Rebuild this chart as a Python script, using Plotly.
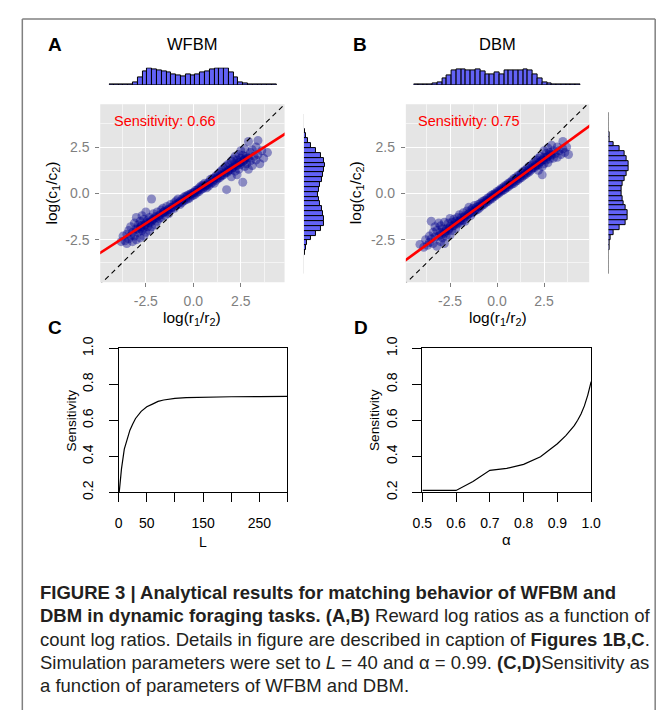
import plotly.graph_objects as go

W, H = 671, 718
FONT = "Liberation Sans, Arial, Helvetica, sans-serif"

# ---------------- data ----------------
# Panel A (WFBM) scatter: (log(r1/r2), log(c1/c2))
A_points = [
    (-3.8, -2.6), (-3.7, -2.3), (-3.6, -2.55), (-3.5, -2.2), (-3.5, -2.7), (-3.4, -2.0), (-3.4, -2.45),
    (-3.3, -2.3), (-3.3, -1.8), (-3.2, -2.6), (-3.2, -2.1), (-3.1, -1.6), (-3.1, -2.3), (-3.0, -1.9),
    (-3.0, -2.5), (-3.0, -1.3), (-2.9, -2.1), (-2.9, -1.7), (-2.8, -2.4), (-2.8, -1.5), (-2.8, -1.9),
    (-2.7, -1.2), (-2.7, -2.0), (-2.7, -1.7), (-2.6, -2.3), (-2.6, -1.4), (-2.6, -1.85), (-2.5, -1.6),
    (-2.5, -2.1), (-2.5, -1.0), (-2.4, -1.8), (-2.4, -1.45), (-2.3, -1.3), (-2.3, -2.0), (-2.3, -1.6),
    (-2.2, -0.3), (-2.2, -1.5), (-2.2, -1.8), (-2.1, -1.1), (-2.1, -1.4), (-2.0, -1.7), (-2.0, -1.25),
    (-1.9, -1.0), (-1.9, -1.5), (-1.8, -1.2), (-1.8, -1.35), (-1.7, -0.9), (-1.7, -1.3), (-1.6, -1.05),
    (-1.6, -0.8), (-1.5, -1.2), (-1.5, -0.95), (-1.4, -0.7), (-1.4, -1.0), (-1.3, -0.85), (-1.3, -1.1),
    (-1.2, -0.6), (-1.2, -0.9), (-1.1, -0.75), (-1.0, -0.5), (-1.0, -0.8), (-0.9, -0.65), (-0.9, -0.4),
    (-0.8, -0.55), (-0.8, -0.3), (-0.7, -0.45), (-0.7, -0.6), (-0.6, -0.3), (-0.6, -0.5), (-0.5, -0.2),
    (-0.5, -0.4), (-0.4, -0.35), (-0.4, -0.15), (-0.3, -0.1), (-0.3, -0.3), (-0.2, -0.05), (-0.2, -0.25),
    (-0.1, 0.0), (-0.1, -0.15), (0.0, 0.05), (0.0, -0.1), (0.1, 0.15), (0.1, -0.05), (0.2, 0.2),
    (0.2, 0.05), (0.3, 0.1), (0.3, 0.3), (0.4, 0.2), (0.4, 0.4), (0.5, 0.25), (0.5, 0.45), (0.6, 0.35),
    (0.6, 0.55), (0.7, 0.45), (0.7, 0.3), (0.8, 0.6), (0.8, 0.4), (0.9, 0.5), (0.9, 0.75), (1.0, 0.6),
    (1.0, 0.8), (1.1, 0.55), (1.1, 0.85), (1.2, 0.7), (1.2, 0.95), (1.3, 0.8), (1.3, 1.05), (1.4, 0.85),
    (1.4, 1.15), (1.5, 0.95), (1.5, 1.25), (1.6, 1.0), (1.6, 1.35), (1.7, 1.1), (1.7, 1.45), (1.75, 0.2),
    (1.8, 1.15), (1.8, 1.55), (1.9, 1.25), (1.9, 1.6), (2.0, 1.3), (2.0, 1.75), (2.0, 0.9), (2.1, 1.4),
    (2.1, 1.85), (2.2, 1.2), (2.2, 1.6), (2.2, 2.0), (2.3, 1.5), (2.3, 1.8), (2.3, 1.0), (2.4, 1.65),
    (2.4, 2.1), (2.4, 1.3), (2.5, 1.55), (2.5, 1.9), (2.5, 2.3), (2.6, 1.7), (2.6, 0.6), (2.6, 2.05),
    (2.7, 1.45), (2.7, 1.85), (2.7, 2.4), (2.8, 1.6), (2.8, 2.0), (2.9, 2.8), (2.9, 1.9), (2.9, 1.3),
    (3.0, 2.2), (3.0, 1.75), (3.1, 1.5), (3.1, 2.35), (3.2, 2.0), (3.3, 1.8), (3.3, 2.5), (3.4, 2.85),
    (3.4, 2.1), (3.5, 1.6), (3.6, 2.3), (3.7, 1.9), (3.9, 2.2),
    (-2.95, -1.95), (-2.75, -1.8), (-2.55, -1.7), (-2.35, -1.55), (-2.15, -1.4), (-1.95, -1.3),
    (-1.75, -1.15), (-1.55, -1.0), (-1.35, -0.9), (-1.15, -0.75), (-0.95, -0.6), (-0.75, -0.5),
    (-0.55, -0.35), (-0.35, -0.2), (-0.15, -0.08), (0.05, 0.05), (0.25, 0.18), (0.45, 0.33),
    (0.65, 0.45), (0.85, 0.58), (1.05, 0.72), (1.25, 0.85), (1.45, 0.98), (1.65, 1.12), (1.85, 1.25),
    (2.05, 1.38), (2.25, 1.52), (2.45, 1.65), (2.65, 1.78), (2.85, 1.92),
]

# Panel B (DBM) scatter
B_points = [
    (-4.1, -2.75), (-3.9, -2.9), (-3.8, -2.5), (-3.7, -2.8), (-3.6, -2.3), (-3.6, -2.65), (-3.5, -1.5),
    (-3.5, -2.45), (-3.4, -2.1), (-3.4, -2.7), (-3.3, -1.8), (-3.3, -2.35), (-3.2, -2.85), (-3.2, -2.0),
    (-3.1, -1.6), (-3.1, -2.3), (-3.0, -2.1), (-3.0, -2.6), (-3.0, -1.75), (-2.9, -1.9), (-2.9, -2.4),
    (-2.8, -1.55), (-2.8, -2.15), (-2.8, -2.7), (-2.7, -1.9), (-2.7, -2.3), (-2.6, -1.6), (-2.6, -2.0),
    (-2.5, -1.35), (-2.5, -1.8), (-2.5, -2.25), (-2.4, -1.55), (-2.4, -2.0), (-2.3, -1.4), (-2.3, -1.75),
    (-2.2, -1.9), (-2.2, -1.5), (-2.1, -1.3), (-2.1, -1.65), (-2.0, -1.5), (-2.0, -1.15), (-1.9, -1.6),
    (-1.9, -1.3), (-1.8, -1.05), (-1.8, -1.45), (-1.7, -1.2), (-1.7, -1.5), (-1.6, -0.95), (-1.6, -1.25),
    (-1.5, -1.1), (-1.5, -0.75), (-1.4, -1.2), (-1.4, -0.9), (-1.3, -0.8), (-1.3, -1.05), (-1.2, -0.65),
    (-1.2, -0.95), (-1.1, -0.75), (-1.1, -0.9), (-1.0, -0.6), (-1.0, -0.85), (-0.9, -0.55), (-0.9, -0.75),
    (-0.8, -0.45), (-0.8, -0.65), (-0.7, -0.4), (-0.7, -0.6), (-0.6, -0.35), (-0.6, -0.5), (-0.5, -0.25),
    (-0.5, -0.45), (-0.4, -0.2), (-0.4, -0.35), (-0.3, -0.1), (-0.3, -0.3), (-0.2, -0.05), (-0.2, -0.2),
    (-0.1, 0.0), (-0.1, -0.15), (0.0, 0.1), (0.0, -0.05), (0.1, 0.15), (0.1, 0.0), (0.2, 0.25), (0.2, 0.1),
    (0.3, 0.3), (0.3, 0.15), (0.4, 0.4), (0.4, 0.2), (0.5, 0.45), (0.5, 0.3), (0.6, 0.55), (0.6, 0.35),
    (0.7, 0.6), (0.7, 0.45), (0.8, 0.7), (0.8, 0.5), (0.9, 0.8), (0.9, 0.55), (1.0, 0.85), (1.0, 0.65),
    (1.1, 0.95), (1.1, 0.7), (1.2, 1.0), (1.2, 0.8), (1.3, 1.1), (1.3, 0.85), (1.4, 1.2), (1.4, 0.95),
    (1.5, 1.25), (1.5, 1.0), (1.6, 1.35), (1.6, 1.1), (1.7, 1.45), (1.7, 1.15), (1.8, 1.5), (1.8, 1.25),
    (1.9, 1.6), (1.9, 1.35), (2.0, 1.7), (2.0, 1.4), (2.1, 1.8), (2.1, 1.5), (2.2, 1.9), (2.2, 1.55),
    (2.2, 1.25), (2.3, 1.7), (2.3, 2.0), (2.4, 1.8), (2.4, 1.45), (2.5, 1.95), (2.5, 2.3), (2.5, 1.6),
    (2.6, 1.8), (2.6, 2.15), (2.7, 2.0), (2.7, 1.65), (2.7, 2.45), (2.8, 2.2), (2.8, 1.85), (2.9, 2.05),
    (2.9, 2.6), (3.0, 2.3), (3.0, 1.9), (3.1, 2.15), (3.2, 2.5), (3.2, 1.95), (3.3, 2.3), (3.4, 2.1),
    (3.5, 2.8), (3.5, 2.4), (3.6, 2.2), (3.8, 2.1), (3.7, 2.5), (2.4, 1.0),
    (-2.95, -2.2), (-2.75, -2.05), (-2.55, -1.9), (-2.35, -1.75), (-2.15, -1.6), (-1.95, -1.45),
    (-1.75, -1.3), (-1.55, -1.15), (-1.35, -1.0), (-1.15, -0.85), (-0.95, -0.7), (-0.75, -0.55),
    (-0.55, -0.4), (-0.35, -0.25), (-0.15, -0.1), (0.05, 0.05), (0.25, 0.2), (0.45, 0.33), (0.65, 0.48),
    (0.85, 0.63), (1.05, 0.78), (1.25, 0.92), (1.45, 1.07), (1.65, 1.22), (1.85, 1.37), (2.05, 1.52),
    (2.25, 1.66), (2.45, 1.81), (2.65, 1.96), (2.85, 2.1),
]

# fitted lines (sensitivity = slope) and identity line
A_label = "Sensitivity: 0.66"
B_label = "Sensitivity: 0.75"
A_fit_slope, A_fit_icpt = 0.66, 0.03
B_fit_slope, B_fit_icpt = 0.74, 0.0
line_x = [-6.0, 6.0]

# marginal histograms (bin centres and counts)
top_bins = [-4.25, -4.0, -3.75, -3.5, -3.25, -3.0, -2.75, -2.5, -2.25, -2.0, -1.75, -1.5, -1.25, -1.0,
            -0.75, -0.5, -0.25, 0.0, 0.25, 0.5, 0.75, 1.0, 1.25, 1.5, 1.75, 2.0, 2.25, 2.5, 2.75, 3.0,
            3.25, 3.5, 3.75, 4.0, 4.25]
A_top_counts = [1, 1, 1, 2, 3, 11, 28, 51, 64, 61, 57, 53, 48, 41, 37, 33, 40, 37, 40, 47, 53, 59, 64, 64,
                64, 47, 28, 11, 4, 2, 1, 1, 1, 1, 1]
B_top_counts = [1, 1, 1, 2, 4, 11, 24, 37, 55, 61, 61, 57, 57, 60, 51, 41, 41, 48, 41, 55, 57, 57, 57, 60,
                55, 41, 24, 11, 4, 2, 1, 1, 1, 1, 1]
side_bins = [-4.0, -3.75, -3.5, -3.25, -3.0, -2.75, -2.5, -2.25, -2.0, -1.75, -1.5, -1.25, -1.0, -0.75,
             -0.5, -0.25, 0.0, 0.25, 0.5, 0.75, 1.0, 1.25, 1.5, 1.75, 2.0, 2.25, 2.5, 2.75, 3.0, 3.25,
             3.5, 3.75, 4.0]
A_side_counts = [1, 1, 1, 1, 2, 5, 10, 20, 35, 50, 60, 60, 57, 53, 47, 43, 40, 43, 47, 53, 57, 60, 63, 60,
                 50, 35, 20, 13, 5, 2, 1, 1, 1]
B_side_counts = [1, 1, 1, 1, 1, 2, 3, 6, 16, 33, 53, 58, 58, 53, 46, 43, 40, 40, 43, 48, 56, 61, 61, 56,
                 48, 33, 16, 4, 2, 1, 1, 1, 1]

# Panel C: sensitivity vs L
C_L = [1, 5, 10, 15, 20, 25, 30, 40, 50, 60, 70, 80, 100, 120, 150, 200, 250, 300]
C_sens = [0.20, 0.33, 0.44, 0.50, 0.545, 0.58, 0.61, 0.65, 0.675, 0.69, 0.705, 0.713, 0.722, 0.726,
          0.729, 0.731, 0.732, 0.733]
C_labeled_ticks = [0, 50, 150, 250]
C_unlabeled_ticks = [100, 200, 300]

# Panel D: sensitivity vs alpha
D_alpha = [0.5, 0.55, 0.6, 0.65, 0.7, 0.75, 0.8, 0.85, 0.9, 0.925, 0.95, 0.96, 0.97, 0.98, 0.99, 1.0]
D_sens = [0.21, 0.21, 0.21, 0.26, 0.322, 0.333, 0.355, 0.397, 0.47, 0.515, 0.57, 0.6, 0.635, 0.68,
          0.74, 0.815]
D_ticks = [0.5, 0.6, 0.7, 0.8, 0.9, 1.0]
sens_ticks = [0.2, 0.4, 0.6, 0.8, 1.0]

scatter_ticks = [-2.5, 0.0, 2.5]
scatter_ticktext = ["-2.5", "0.0", "2.5"]
minor_ticks = [-3.75, -1.25, 1.25, 3.75]

caption_lines = [
    "<b>FIGURE 3 | Analytical results for matching behavior of WFBM and</b>",
    "<b>DBM in dynamic foraging tasks. (A,B)</b> Reward log ratios as a function of",
    "count log ratios. Details in figure are described in caption of <b>Figures 1B,C</b>.",
    "Simulation parameters were set to <i>L</i> = 40 and α = 0.99. <b>(C,D)</b>Sensitivity as",
    "a function of parameters of WFBM and DBM.",
]


# ---------------- helpers ----------------
def fx(px):
    return px / W


def fy(py):
    return 1 - py / H


PT_COLOR = "rgba(0,0,139,0.4)"
HIST_FILL = "#6262F6"

fig = go.Figure()


def add_panel(pts, slope, icpt, xa, ya, txa, tya, sxa, sya, top_counts, side_counts):
    xs = [p[0] for p in pts]
    ys = [p[1] for p in pts]
    fig.add_trace(go.Scatter(x=xs, y=ys, mode="markers", xaxis=xa, yaxis=ya,
                             marker=dict(size=9, color=PT_COLOR, line=dict(width=0)),
                             hoverinfo="skip"))
    fig.add_trace(go.Scatter(x=line_x, y=line_x, mode="lines", xaxis=xa, yaxis=ya,
                             line=dict(color="black", width=1.1, dash="5px,4px")))
    fig.add_trace(go.Scatter(x=line_x, y=[slope * v + icpt for v in line_x], mode="lines",
                             xaxis=xa, yaxis=ya, line=dict(color="#FF0000", width=2.7)))
    fig.add_trace(go.Bar(x=top_bins, y=top_counts, width=0.25, xaxis=txa, yaxis=tya,
                         marker=dict(color=HIST_FILL, line=dict(color="black", width=1))))
    fig.add_trace(go.Bar(y=side_bins, x=side_counts, width=0.25, orientation="h", xaxis=sxa, yaxis=sya,
                         marker=dict(color=HIST_FILL, line=dict(color="black", width=1))))


add_panel(A_points, A_fit_slope, A_fit_icpt, "x", "y", "x2", "y2", "x3", "y3", A_top_counts, A_side_counts)
add_panel(B_points, B_fit_slope, B_fit_icpt, "x4", "y4", "x5", "y5", "x6", "y6", B_top_counts, B_side_counts)

fig.add_trace(go.Scatter(x=C_L, y=C_sens, mode="lines", xaxis="x7", yaxis="y7",
                         line=dict(color="black", width=1.2)))
fig.add_trace(go.Scatter(x=D_alpha, y=D_sens, mode="lines", xaxis="x8", yaxis="y8",
                         line=dict(color="black", width=1.2)))

tick_font = dict(family=FONT, size=14, color="#7F7F7F")


def scatter_axis(dom, rng, anchor, standoff):
    return dict(domain=dom, range=rng, anchor=anchor, tickvals=scatter_ticks, ticktext=scatter_ticktext,
                ticks="outside", ticklen=4, tickcolor="#7F7F7F", tickwidth=1, tickfont=tick_font,
                ticklabelstandoff=standoff,
                showgrid=True, gridcolor="white", gridwidth=1.3, zeroline=False, showline=False,
                minor=dict(tickvals=minor_ticks, showgrid=True, gridcolor="#F4F4F4", gridwidth=0.6))


hidden = dict(visible=False, showgrid=False, zeroline=False)


def base_axis(dom, rng, anchor, tv, tt, angle=0, standoff=6, minor_vals=None):
    ax = dict(domain=dom, range=rng, anchor=anchor, tickvals=tv, ticktext=tt, tickangle=angle,
              showline=True, mirror=True, linecolor="black", linewidth=1, ticks="outside",
              ticklen=9, tickcolor="black", tickwidth=1, showgrid=False, zeroline=False,
              ticklabelstandoff=standoff,
              tickfont=dict(family=FONT, size=14, color="black"))
    if minor_vals:
        ax["minor"] = dict(tickvals=minor_vals, ticks="outside", ticklen=9, tickcolor="black",
                           tickwidth=1, showgrid=False)
    return ax


layout = dict(
    width=W, height=H, margin=dict(l=0, r=0, t=0, b=0),
    paper_bgcolor="white", plot_bgcolor="rgba(0,0,0,0)", showlegend=False, bargap=0,
    font=dict(family=FONT),
    xaxis=scatter_axis([fx(93), fx(283)], [-4.9, 4.8], "y", 2),
    yaxis=scatter_axis([fy(278), fy(95)], [-4.79, 4.8], "x", 3),
    xaxis2=dict(domain=[fx(102), fx(275)], range=[-4.375, 4.375], anchor="y2", **hidden),
    yaxis2=dict(domain=[fy(75), fy(57)], range=[0, 67], anchor="x2", **hidden),
    xaxis3=dict(domain=[fx(303), fx(326)], range=[0, 66], anchor="y3", **hidden),
    yaxis3=dict(domain=[fy(270), fy(105)], range=[-4.125, 4.125], anchor="x3", **hidden),
    xaxis4=scatter_axis([fx(408), fx(597)], [-4.85, 4.9], "y4", 2),
    yaxis4=scatter_axis([fy(278), fy(95)], [-4.79, 4.8], "x4", 3),
    xaxis5=dict(domain=[fx(416), fx(588)], range=[-4.375, 4.375], anchor="y5", **hidden),
    yaxis5=dict(domain=[fy(75), fy(57)], range=[0, 67], anchor="x5", **hidden),
    xaxis6=dict(domain=[fx(617), fx(639)], range=[0, 66], anchor="y6", **hidden),
    yaxis6=dict(domain=[fy(270), fy(103)], range=[-4.125, 4.125], anchor="x6", **hidden),
    xaxis7=base_axis([fx(112), fx(286)], [0, 300], "y7", C_labeled_ticks,
                     [str(v) for v in C_labeled_ticks], standoff=9, minor_vals=C_unlabeled_ticks),
    yaxis7=base_axis([fy(494), fy(346)], [0.2, 1.0], "x7", sens_ticks,
                     ["%.1f" % v for v in sens_ticks], angle=-90, standoff=10),
    xaxis8=base_axis([fx(425), fx(599)], [0.5, 1.0], "y8", D_ticks, ["%.1f" % v for v in D_ticks],
                     standoff=9),
    yaxis8=base_axis([fy(494), fy(346)], [0.2, 1.0], "x8", sens_ticks,
                     ["%.1f" % v for v in sens_ticks], angle=-90, standoff=10),
)

FRAME = dict(color="#808080", width=1.5)
shapes = [
    dict(type="rect", xref="x domain", yref="y domain", x0=0, x1=1, y0=0, y1=1,
         fillcolor="#E5E5E5", line=dict(width=0), layer="below"),
    dict(type="rect", xref="x4 domain", yref="y4 domain", x0=0, x1=1, y0=0, y1=1,
         fillcolor="#E5E5E5", line=dict(width=0), layer="below"),
    # outer frame (open at the bottom, stays inside the page)
    dict(type="line", xref="paper", yref="paper", x0=fx(12.7), x1=fx(665), y0=fy(7.3), y1=fy(7.3),
         line=FRAME),
    dict(type="line", xref="paper", yref="paper", x0=fx(12.7), x1=fx(12.7), y0=0, y1=fy(7.3), line=FRAME),
    dict(type="line", xref="paper", yref="paper", x0=fx(665), x1=fx(665), y0=0, y1=fy(7.3), line=FRAME),
]


def ann(text, px, py, size, color="black", xanchor="center", angle=0):
    return dict(text=text, x=fx(px), y=fy(py), xref="paper", yref="paper", showarrow=False,
                xanchor=xanchor, yanchor="middle", textangle=angle,
                font=dict(family=FONT, size=size, color=color))


annotations = [
    ann("<b>A</b>", 46, 33, 19), ann("<b>B</b>", 361, 33, 19),
    ann("<b>C</b>", 46, 325, 19), ann("<b>D</b>", 362, 325, 19),
    ann("WFBM", 188, 33, 16.5), ann("DBM", 502, 33, 16.5),
    ann(A_label, 105, 112, 14.5, color="#FF0000", xanchor="left"),
    ann(B_label, 418, 112, 14.5, color="#FF0000", xanchor="left"),
    ann("log(c<sub>1</sub>/c<sub>2</sub>)", 44, 186, 15.5, angle=-90),
    ann("log(r<sub>1</sub>/r<sub>2</sub>)", 188, 315, 15.5),
    ann("log(c<sub>1</sub>/c<sub>2</sub>)", 357, 186, 15.5, angle=-90),
    ann("log(r<sub>1</sub>/r<sub>2</sub>)", 503, 315, 15.5),
    ann("Sensitivity", 63, 420, 13.7, angle=-90), ann("L", 199, 545, 14),
    ann("Sensitivity", 376, 420, 13.7, angle=-90), ann("α", 512, 543, 15),
]
for i, line in enumerate(caption_lines):
    annotations.append(ann(line, 29, 597 + 24 * i, 18.5, color="#231F20", xanchor="left"))

layout["shapes"] = shapes
layout["annotations"] = annotations
fig.update_layout(**layout)
fig.write_html("out.html", config={"displayModeBar": False},
               post_script="document.body.style.margin='0px';document.body.style.overflow='hidden';")
